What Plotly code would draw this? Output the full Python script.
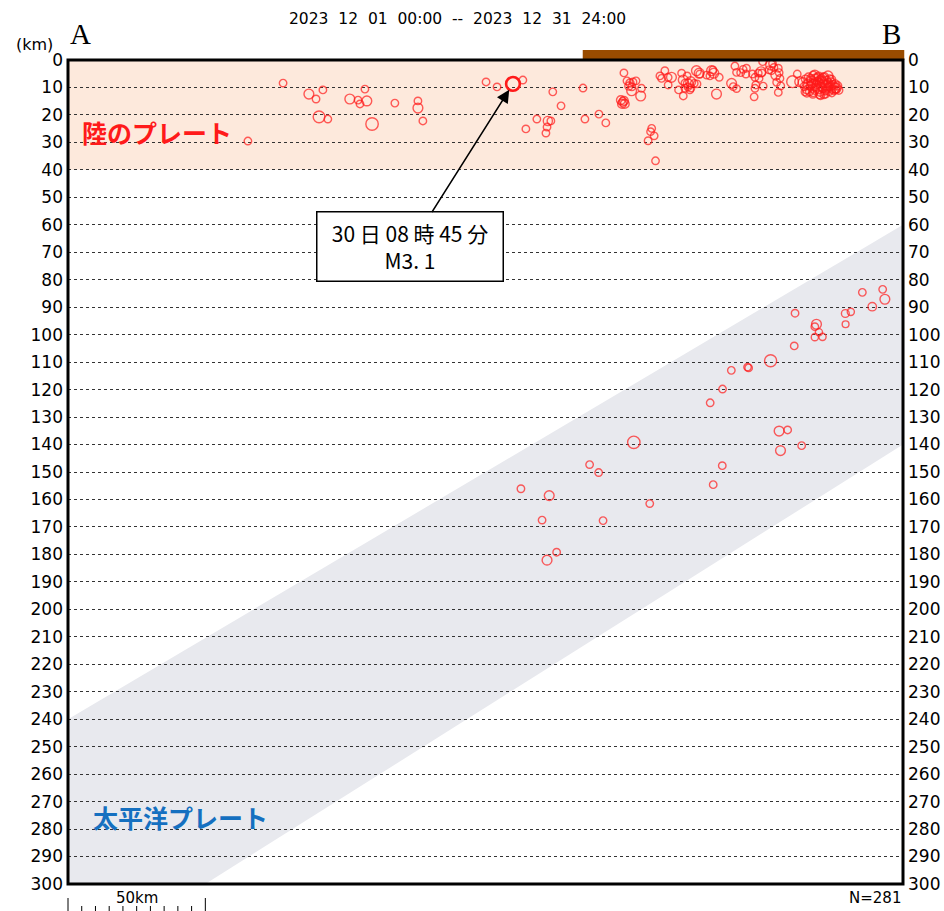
import plotly.graph_objects as go

# ---------------- data ----------------
period_text = "2023\u00a0\u00a012\u00a0\u00a001\u00a0\u00a000:00\u00a0\u00a0--\u00a0\u00a02023\u00a0\u00a012\u00a0\u00a031\u00a0\u00a024:00"
count_text = "N=281"
section_len_km = 304.0
max_depth_km = 300
depth_ticks = list(range(0, 301, 10))
land_start_km = 187.4          # brown land bar start along the section
land_plate_bottom = 40         # km
pacific_top = [(0, 240), (304, 60)]
pacific_bottom = [(304, 140), (50, 300)]

eq_x = [
    65.5, 78.3, 87.7, 90.3, 92.8, 91.4, 94.6, 102.6, 105.6, 106.3, 108.8, 108.1, 119.0, 127.4, 127.4, 129.2, 110.7,
    152.2, 156.2, 165.6, 176.5, 179.5, 187.5, 170.7, 174.7, 175.8, 174.4, 174.0, 166.7, 188.2, 193.3, 195.8,
    202.4, 203.5, 204.6, 205.7, 204.2, 205.3, 206.8, 205.2, 208.8, 208.5, 201.3, 202.4, 201.7, 202.7, 202.0,
    212.5, 212.1, 213.4, 211.2, 213.9, 215.5, 217.3, 216.1, 218.5, 219.7, 218.5, 222.3, 224.0, 223.4, 224.0,
    225.4, 225.8, 226.7, 224.6, 226.4, 228.0, 228.8, 229.8, 232.5, 234.3, 235.1, 233.7, 237.1, 236.1, 241.6,
    242.2, 243.4, 242.8, 243.4, 244.9, 245.8, 247.0, 246.8, 249.2, 250.1, 250.4, 250.1, 249.8, 251.3, 252.3,
    251.6, 253.1, 252.9, 255.8, 256.5, 257.0, 256.1, 258.6, 258.9, 257.7, 259.2, 258.0, 259.5, 258.6, 263.8,
    265.5, 266.4, 224.6, 225.7, 229.0, 226.8, 230.0, 234.8, 255.2, 252.6,
    267.6, 268.1, 268.5, 268.9, 269.3, 269.6, 270.0, 270.2, 270.6, 271.0, 271.3, 271.5, 271.9, 272.2, 272.4,
    272.8, 273.0, 273.3, 273.5, 273.8, 274.1, 274.3, 274.6, 274.9, 275.2, 275.4, 275.7, 276.0, 276.2, 276.5,
    276.8, 277.1, 277.3, 277.6, 277.9, 278.2, 278.5, 278.9, 279.3, 279.7, 280.2, 280.6, 269.0, 271.2, 273.6,
    275.8, 270.4, 272.9, 276.7, 278.0, 274.0, 268.3, 271.2, 275.2, 278.1, 279.2, 279.6, 274.8, 271.9, 270.8,
    272.0, 273.9, 275.9, 277.0,
    296.6, 289.2, 297.4, 292.8, 264.7, 283.0, 285.0, 283.1, 272.5, 271.9, 273.4, 271.9, 274.7, 264.4, 255.8,
    247.4, 247.8, 241.5, 238.3, 233.8, 258.9, 262.0, 259.4, 267.1, 206.0, 189.9, 193.2, 238.2, 234.9, 164.9,
    175.2, 211.8, 172.6, 194.8, 177.9, 174.4,
]
eq_depth = [
    29.5, 8.4, 12.4, 14.2, 10.9, 20.7, 21.5, 14.2, 14.6, 16.0, 14.9, 10.6, 15.7, 14.9, 17.5, 22.2, 23.3,
    8.0, 9.8, 7.3, 11.6, 16.7, 10.2, 21.5, 22.2, 22.2, 24.4, 26.6, 25.1, 21.5, 19.7, 22.9,
    4.7, 7.6, 8.4, 8.0, 9.5, 9.8, 7.6, 11.2, 10.3, 13.1, 14.6, 14.9, 16.0, 16.0, 15.3,
    24.9, 26.1, 27.6, 29.4, 36.7, 5.8, 3.9, 6.7, 6.3, 6.3, 9.1, 10.9, 13.1, 4.8, 7.3,
    5.8, 8.7, 7.9, 10.3, 10.9, 8.5, 3.9, 4.8, 5.5, 3.9, 4.8, 5.8, 6.3, 12.4, 8.5,
    9.7, 10.4, 2.2, 4.5, 4.6, 3.4, 3.0, 5.1, 5.1, 6.3, 9.1, 10.3, 13.4, 4.8, 4.3,
    6.7, 9.5, 0.6, 1.8, 1.2, 2.7, 3.9, 3.0, 4.6, 5.5, 6.7, 8.1, 9.4, 11.8, 7.9,
    5.1, 7.9, 8.4, 9.8, 8.7, 10.2, 5.1, 3.6, 3.6, 4.7,
    8.2, 9.6, 7.0, 10.8, 8.8, 6.2, 11.5, 9.4, 7.6, 10.2, 5.6, 8.5, 11.0, 6.9, 9.0,
    7.8, 10.5, 5.9, 8.3, 11.7, 9.6, 6.8, 7.9, 10.3, 8.6, 6.1, 11.2, 9.1, 7.4, 10.0,
    8.3, 11.4, 6.9, 9.5, 8.0, 10.6, 9.0, 11.1, 8.7, 10.2, 9.4, 11.0, 12.0, 12.4, 12.6,
    12.3, 6.7, 6.3, 5.8, 7.1, 12.9, 11.6, 12.0, 12.7, 12.0, 10.2, 10.9, 6.6, 5.5, 8.9,
    9.8, 7.2, 10.6, 9.7,
    83.5, 84.6, 87.1, 89.8, 92.2, 92.3, 91.7, 96.2, 96.2, 97.1, 99.1, 100.9, 100.8, 104.1, 109.5,
    111.8, 112.1, 113.0, 119.8, 124.8, 135.1, 134.7, 142.2, 140.4, 139.2, 147.3, 150.2, 147.7, 154.6, 156.1,
    158.6, 161.5, 167.5, 167.7, 179.2, 182.1,
]
eq_mag = [
    1.2, 1.2, 1.9, 1.2, 1.2, 2.5, 1.2, 1.9, 1.2, 1.2, 1.9, 1.2, 1.2, 1.2, 1.9, 1.2, 2.7,
    1.2, 1.2, 1.2, 1.2, 1.2, 1.2, 1.2, 1.7, 1.2, 1.2, 1.2, 1.2, 1.2, 1.2, 1.2,
    1.2, 1.2, 1.4, 1.2, 1.4, 1.2, 1.2, 1.9, 1.2, 1.9, 1.6, 1.6, 1.6, 1.6, 1.6,
    1.2, 1.2, 1.2, 1.2, 1.2, 1.2, 1.2, 1.2, 1.2, 1.9, 1.2, 1.2, 1.2, 1.2, 1.9,
    1.2, 1.9, 1.9, 1.2, 1.2, 1.2, 1.9, 1.9, 1.2, 1.9, 1.9, 1.2, 1.2, 1.9, 1.9,
    1.2, 1.2, 1.2, 1.2, 1.2, 1.2, 1.2, 1.2, 1.2, 1.2, 1.2, 1.2, 1.2, 1.2, 1.9,
    1.2, 1.2, 1.2, 1.9, 1.2, 1.2, 1.2, 1.2, 1.2, 1.9, 1.2, 1.2, 1.2, 1.2, 2.5,
    1.2, 1.9, 1.2, 1.2, 1.2, 1.2, 1.2, 1.2, 1.2, 1.2,
    1.9, 1.4, 1.4, 1.4, 1.9, 1.4, 1.4, 1.4, 1.9, 1.4, 1.4, 1.4, 1.4, 1.9, 1.4,
    1.4, 1.9, 1.4, 1.4, 1.4, 1.4, 1.4, 1.9, 1.4, 1.4, 1.4, 1.4, 1.9, 1.4, 1.4,
    1.4, 1.4, 1.4, 1.9, 1.4, 1.4, 1.4, 1.4, 1.4, 1.9, 1.4, 1.4, 1.4, 1.4, 1.4,
    1.4, 1.4, 1.4, 1.9, 1.4, 1.4, 1.2, 1.2, 1.2, 1.2, 1.9, 1.2, 1.9, 1.9, 1.4,
    1.4, 1.4, 1.4, 1.4,
    1.2, 1.2, 1.9, 1.5, 1.2, 1.3, 1.1, 1.0, 1.9, 1.2, 1.1, 1.1, 1.1, 1.2, 2.6,
    1.2, 1.2, 1.2, 1.2, 1.2, 1.9, 1.2, 1.9, 1.2, 2.7, 1.2, 1.2, 1.2, 1.2, 1.2,
    1.9, 1.2, 1.2, 1.2, 1.2, 1.9,
]
# highlighted event
hl_x = 162.0
hl_depth = 8.7
hl_mag = 3.1
hl_label = "30 日 08 時 45 分<br>M3. 1"


def mag_to_size(m):
    return 3.5 + 3.3 * m


RED = "#ff1a1a"
fig = go.Figure()

fig.add_trace(go.Scatter(
    x=eq_x, y=eq_depth, mode="markers", hoverinfo="skip",
    marker=dict(symbol="circle-open", size=[mag_to_size(m) for m in eq_mag],
                color=RED, line=dict(color=RED, width=1.4)),
))
fig.add_trace(go.Scatter(
    x=[hl_x], y=[hl_depth], mode="markers", hoverinfo="skip",
    marker=dict(symbol="circle-open", size=mag_to_size(hl_mag),
                color=RED, line=dict(color=RED, width=2.6)),
))
# invisible trace for the right depth axis
fig.add_trace(go.Scatter(x=[0], y=[0], yaxis="y2", mode="markers",
                         marker=dict(opacity=0), hoverinfo="skip"))

W, H = 944, 911
ML, MR, MT, MB = 68, 41, 60, 27
PW = W - ML - MR
PH = H - MT - MB

shapes = []
# land plate band
shapes.append(dict(type="rect", xref="x", yref="y", x0=0, x1=section_len_km, y0=0, y1=land_plate_bottom,
                   fillcolor="#fde9dc", line=dict(width=0), layer="below"))
# pacific plate band
path = "M {},{} L {},{} L {},{} L {},{} L 0,{} Z".format(
    pacific_top[0][0], pacific_top[0][1], pacific_top[1][0], pacific_top[1][1],
    pacific_bottom[0][0], pacific_bottom[0][1], pacific_bottom[1][0], pacific_bottom[1][1], max_depth_km)
shapes.append(dict(type="path", xref="x", yref="y", path=path,
                   fillcolor="#e8e9ee", line=dict(width=0), layer="below"))
# land bar (brown)
shapes.append(dict(type="rect", xref="paper", yref="paper",
                   x0=land_start_km / section_len_km, x1=1.0015, y0=1, y1=1 + 10 / PH,
                   fillcolor="#994c00", line=dict(width=0), layer="above"))
# frame
shapes.append(dict(type="rect", xref="paper", yref="paper", x0=0, x1=1, y0=0, y1=1,
                   line=dict(color="black", width=3), fillcolor="rgba(0,0,0,0)", layer="above"))
# scale bar ticks (0..50 km every 5 km)
for k in range(0, 51, 5):
    major = k in (0, 50)
    y_top = -(14 if major else 22) / PH
    shapes.append(dict(type="line", xref="paper", yref="paper",
                       x0=k / section_len_km, x1=k / section_len_km, y0=y_top, y1=-27 / PH,
                       line=dict(color="black", width=1)))

annotations = [
    dict(text=period_text, xref="paper", yref="paper", x=(457 - ML) / PW, y=1 + 41 / PH,
         showarrow=False, font=dict(family="DejaVu Sans", size=15.5, color="black"),
         xanchor="center", yanchor="middle"),
    dict(text="A", xref="paper", yref="paper", x=(80 - ML) / PW, y=1 + 26 / PH, showarrow=False,
         font=dict(family="Liberation Serif", size=29, color="black"), xanchor="center", yanchor="middle"),
    dict(text="B", xref="paper", yref="paper", x=(891 - ML) / PW, y=1 + 26 / PH, showarrow=False,
         font=dict(family="Liberation Serif", size=29, color="black"), xanchor="center", yanchor="middle"),
    dict(text="(km)", xref="paper", yref="paper", x=(34 - ML) / PW, y=1 + 16 / PH, showarrow=False,
         font=dict(family="DejaVu Sans", size=16, color="black"), xanchor="center", yanchor="middle"),
    dict(text="<b>陸のプレート</b>", xref="x", yref="y", x=4.4, y=26.2, showarrow=False,
         font=dict(family="Noto Sans CJK JP", size=25, color="#ff1a1a"), xanchor="left", yanchor="middle"),
    dict(text="<b>太平洋プレート</b>", xref="x", yref="y", x=8.4, y=275.5, showarrow=False,
         font=dict(family="Noto Sans CJK JP", size=25, color="#1570c0"), xanchor="left", yanchor="middle"),
    dict(text="50km", xref="paper", yref="paper", x=(137 - ML) / PW, y=-14 / PH, showarrow=False,
         font=dict(family="DejaVu Sans", size=15, color="black"), xanchor="center", yanchor="middle"),
    dict(text=count_text, xref="paper", yref="paper", x=1, y=-14 / PH, showarrow=False,
         font=dict(family="DejaVu Sans", size=15, color="black"), xanchor="right", yanchor="middle"),
    dict(text=hl_label, xref="x", yref="y", x=hl_x, y=hl_depth, ax=-103, ay=163,
         showarrow=True, arrowhead=2, arrowsize=1.6, arrowwidth=1.6, arrowcolor="black", standoff=7,
         font=dict(family="Noto Sans CJK JP", size=21, color="black"),
         bgcolor="white", bordercolor="black", borderwidth=1.5, borderpad=2, width=181, height=64),
]

tickfont = dict(family="DejaVu Sans", size=17, color="black")
fig.update_layout(
    width=W, height=H, autosize=False,
    margin=dict(l=ML, r=MR, t=MT, b=MB, pad=0, autoexpand=False),
    paper_bgcolor="white", plot_bgcolor="white",
    showlegend=False,
    xaxis=dict(range=[0, section_len_km], showgrid=False, zeroline=False, showticklabels=False,
               ticks="", showline=False, fixedrange=True, automargin=False),
    yaxis=dict(range=[max_depth_km, 0], tickmode="array", tickvals=depth_ticks,
               ticktext=[str(t) for t in depth_ticks], showgrid=True, gridcolor="#333333",
               gridwidth=1, griddash="dot", zeroline=False, ticks="", tickfont=tickfont,
               ticklabelstandoff=4, showline=False, automargin=False),
    yaxis2=dict(range=[max_depth_km, 0], overlaying="y", side="right", tickmode="array",
                tickvals=depth_ticks, ticktext=[str(t) for t in depth_ticks], showgrid=False,
                zeroline=False, ticks="", tickfont=tickfont, ticklabelstandoff=4, showline=False,
                automargin=False),
    shapes=shapes,
    annotations=annotations,
)

fig.write_html("out.html", config={"displayModeBar": False},
               post_script="document.body.style.margin='0';document.body.style.overflow='hidden';")
